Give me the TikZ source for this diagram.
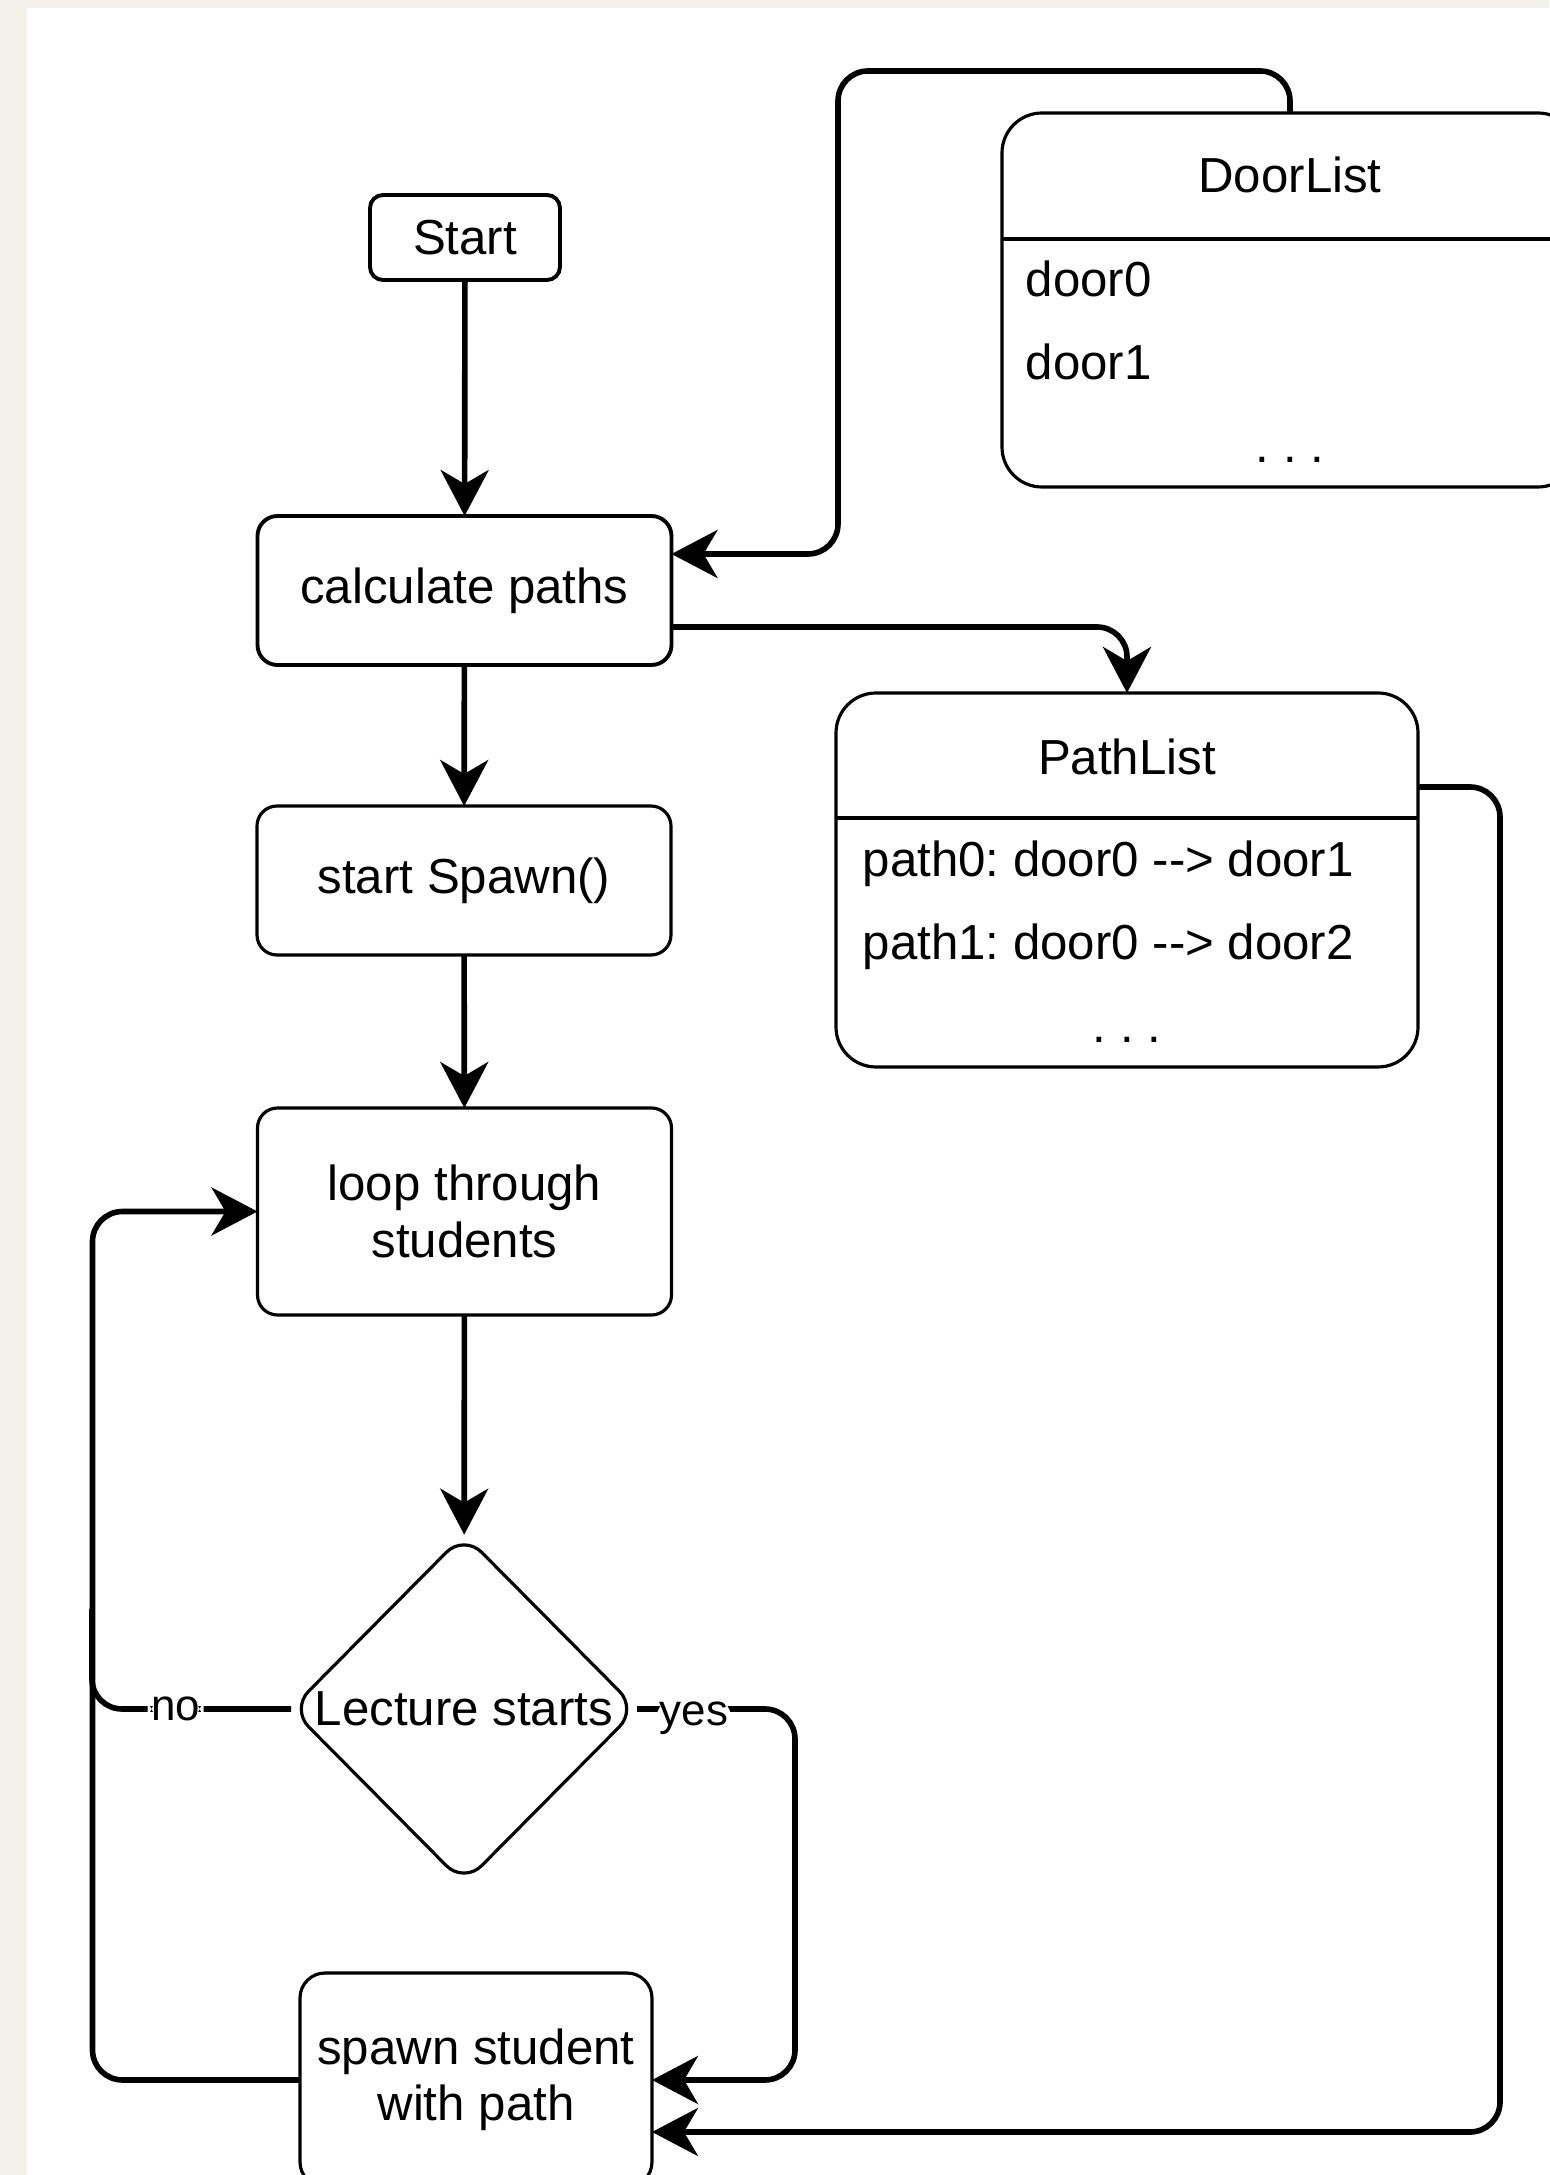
\documentclass[tikz,border=0pt]{standalone}
\usepackage{fontspec}
\setmainfont{Liberation Sans}
\usetikzlibrary{shapes.geometric,arrows.meta,calc}

\definecolor{paper}{HTML}{F2F2EA}
\frenchspacing

\tikzset{
  box/.style={draw, line width=0.9pt, rounded corners=2mm, minimum width=4.14cm,
    minimum height=1.49cm, align=center, inner sep=0pt, outer sep=0pt,
    font=\fontsize{14}{16}\selectfont},
  listbox/.style={draw, line width=0.9pt, rounded corners=4mm, minimum height=3.74cm,
    inner sep=0pt, outer sep=0pt},
  decision/.style={diamond, draw, line width=0.9pt, rounded corners=2.5mm, aspect=1,
    minimum width=3.46cm, minimum height=3.49cm, inner sep=0pt, outer sep=0pt,
    font=\fontsize{14}{16}\selectfont},
  txt/.style={inner sep=0pt, font=\fontsize{14}{16}\selectfont},
  flow/.style={line width=1.6pt, rounded corners=3mm,
    -{Stealth[length=4.6mm,width=4.8mm,inset=1.4mm]}},
  wire/.style={line width=1.6pt, rounded corners=3mm},
  lbl/.style={fill=white, inner sep=1pt, font=\fontsize{12.5}{14}\selectfont},
}

\begin{document}
\begin{tikzpicture}
    \useasboundingbox (0,0) rectangle (15.49,21.75);
    \fill[paper] (0,0) rectangle (15.49,21.75);
    \fill[white] (0.27,0) rectangle (15.49,21.67);

    % main flow
    \node[box, minimum width=1.9cm, minimum height=0.85cm, rounded corners=1.3mm, line width=1.1pt] (start) at (4.65,19.375) {Start};
    \node[box, line width=1.1pt] (calc) at (4.645,15.845) {calculate paths};
    \node[box] (spawnstart) at (4.64,12.945) {start Spawn()};
    \node[box, minimum height=2.07cm] (loop) at (4.645,9.635) {loop through\\students};
    \node[decision] (dec) at (4.64,4.66) {Lecture starts};
    \node[box, minimum width=3.52cm, minimum height=2.14cm, rounded corners=2.5mm] (spawn) at (4.76,0.95) {spawn student\\with path};

    % DoorList
    \node[listbox, minimum width=5.76cm] (doors) at (12.90,18.75) {};
    \node[txt, anchor=base] (doorstitle) at ($(doors.north)+(0,-0.80)$) {DoorList};
    \draw[line width=0.9pt] ($(doors.north west)+(0,-1.26)$) -- ($(doors.north east)+(0,-1.26)$);
    \node[txt, anchor=base west] (door0) at ($(doors.north west)+(0.23,-1.84)$) {door0};
    \node[txt, anchor=base west] (door1) at ($(doors.north west)+(0.23,-2.67)$) {door1};
    \node[txt, anchor=base] (doorsmore) at ($(doors.north)+(0,-3.50)$) {. . .};

    % PathList
    \node[listbox, minimum width=5.82cm] (paths) at (11.27,12.95) {};
    \node[txt, anchor=base] (pathstitle) at ($(paths.north)+(0,-0.82)$) {PathList};
    \draw[line width=0.9pt] ($(paths.north west)+(0,-1.25)$) -- ($(paths.north east)+(0,-1.25)$);
    \node[txt, anchor=base west] (path0) at ($(paths.north west)+(0.26,-1.84)$) {path0: door0 -{}-> door1};
    \node[txt, anchor=base west] (path1) at ($(paths.north west)+(0.26,-2.67)$) {path1: door0 -{}-> door2};
    \node[txt, anchor=base] (pathsmore) at ($(paths.north)+(0,-3.50)$) {. . .};

    % connectors
    \draw[flow] (start) -- (calc);
    \draw[flow] (doors.north) -- ++(0,0.42) -| (8.38,16.21) -- ([yshift=3.65mm]calc.east);
    \draw[flow] ([yshift=-3.65mm]calc.east) -| (paths.north);
    \draw[flow] (calc) -- (spawnstart);
    \draw[flow] (spawnstart) -- (loop);
    \draw[flow] (loop) -- (dec);

    % decision branches
    \draw[wire] (dec.west) -- node[lbl, pos=0.58] {no} ++(-1.99,0) -- ++(0,1);
    \draw[flow] (dec.east) -- node[lbl, pos=0.36, inner ysep=3pt, yshift=-0.9mm] {yes} ++(1.58,0) |- (spawn.east);
    \draw[flow] (spawn.west) -| ($(loop.west)+(-1.65,0)$) -- (loop.west);
    \draw[flow] ([yshift=9.3mm]paths.east) -- ++(0.82,0) |- ([yshift=-5.2mm]spawn.east);
\end{tikzpicture}
\end{document}
